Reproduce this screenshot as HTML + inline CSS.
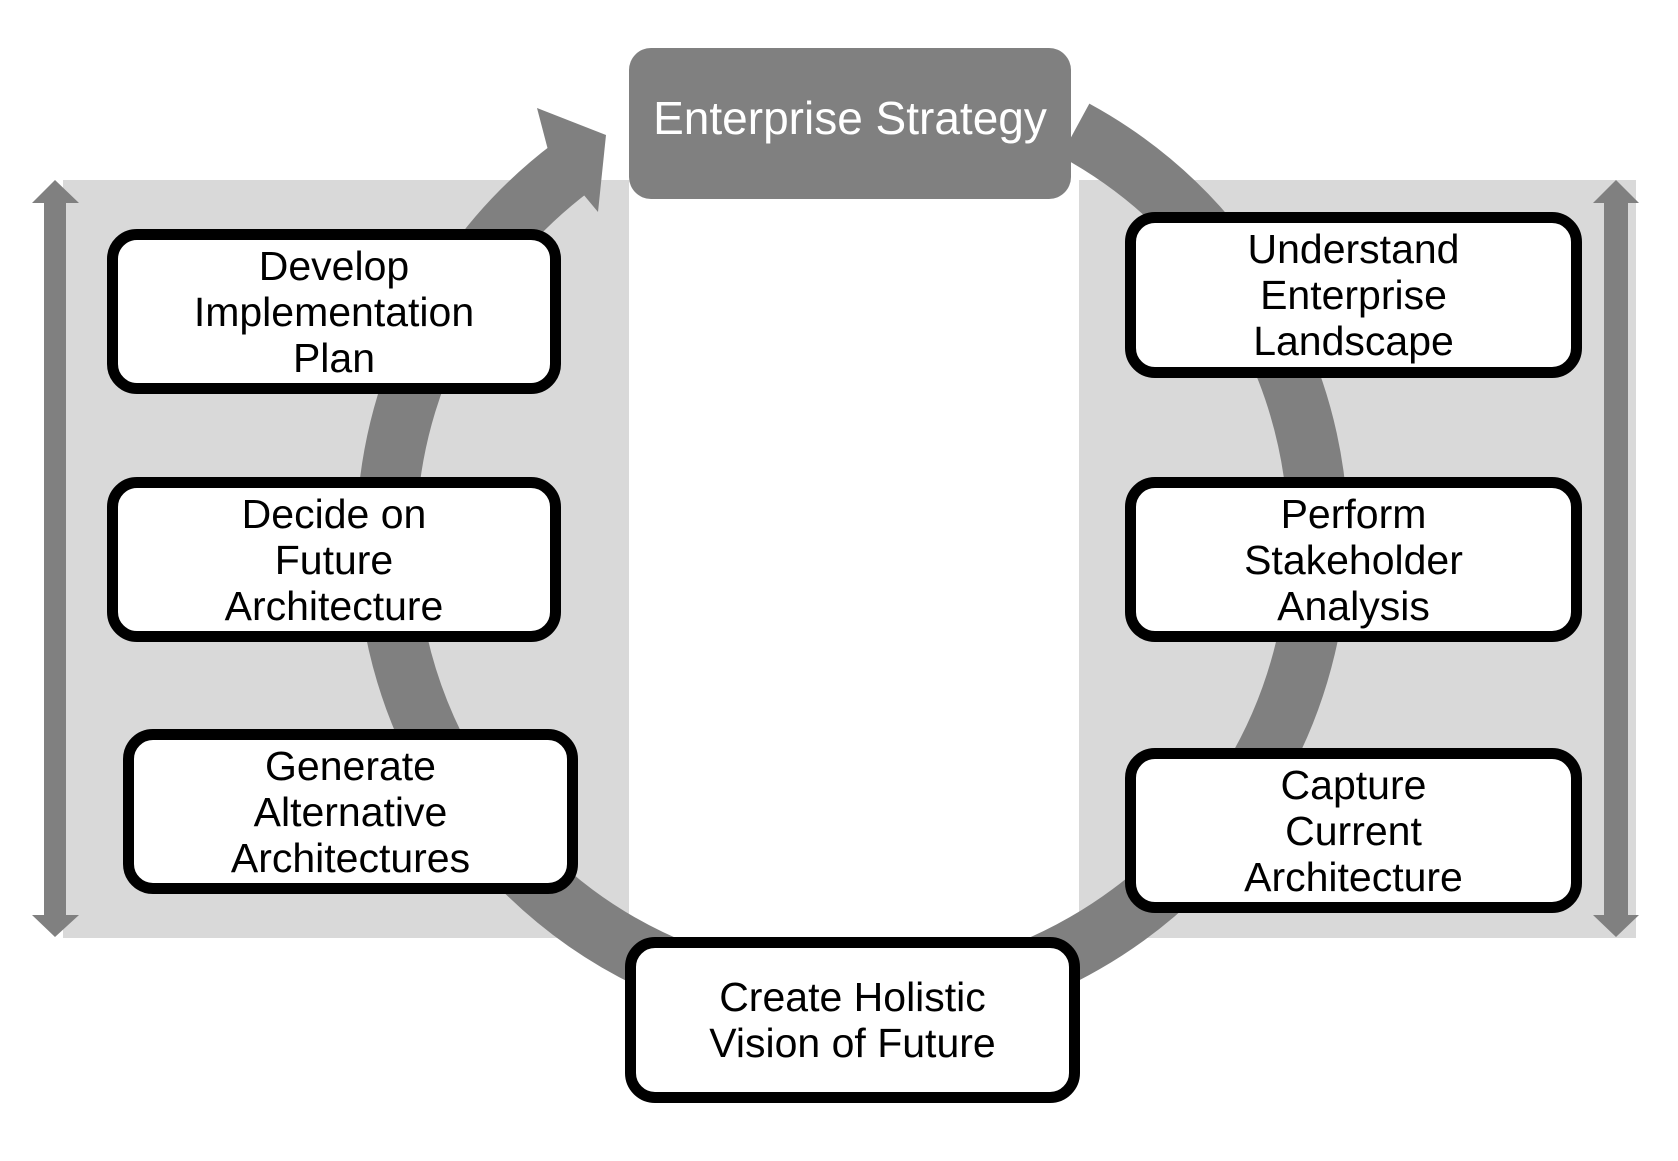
<!DOCTYPE html>
<html><head><meta charset="utf-8"><style>
html,body{margin:0;padding:0;background:#fff;}
body{width:1678px;height:1161px;position:relative;overflow:hidden;font-family:"Liberation Sans",Arial,sans-serif;}
.b{position:absolute;box-sizing:border-box;border:11px solid #000;border-radius:30px;background:#fff;display:flex;align-items:center;justify-content:center;text-align:center;font-size:41px;line-height:46px;color:#000;}
</style></head><body>
<svg width="1678" height="1161" style="position:absolute;left:0;top:0">
<rect x="63" y="180" width="566" height="758" fill="#d9d9d9"/>
<rect x="1079" y="180" width="557" height="758" fill="#d9d9d9"/>
<path d="M1075 130 A466 466 0 1 1 572 167" fill="none" stroke="#808080" stroke-width="60"/>
<polygon points="537,108 606,135 598,212 578,188 548,150" fill="#808080"/>
<polygon points="55,180 79,203 66,203 66,915 79,915 55,937 32,915 44,915 44,203 32,203" fill="#808080"/>
<polygon points="1616,180 1639,203 1628,203 1628,915 1639,915 1616,937 1593,915 1604,915 1604,203 1593,203" fill="#808080"/>
</svg>
<div style="position:absolute;left:629px;top:48px;width:442px;height:151px;background:#808080;border-radius:22px;color:#fff;font-size:46px;display:flex;align-items:center;justify-content:center;padding-bottom:12px;box-sizing:border-box;">Enterprise Strategy</div>
<div class="b" style="left:107px;top:229px;width:454px;height:165px;">Develop<br>Implementation<br>Plan</div>
<div class="b" style="left:107px;top:477px;width:454px;height:165px;">Decide on<br>Future<br>Architecture</div>
<div class="b" style="left:123px;top:729px;width:455px;height:165px;">Generate<br>Alternative<br>Architectures</div>
<div class="b" style="left:1125px;top:212px;width:457px;height:166px;">Understand<br>Enterprise<br>Landscape</div>
<div class="b" style="left:1125px;top:477px;width:457px;height:165px;">Perform<br>Stakeholder<br>Analysis</div>
<div class="b" style="left:1125px;top:748px;width:457px;height:165px;">Capture<br>Current<br>Architecture</div>
<div class="b" style="left:625px;top:937px;width:455px;height:166px;">Create Holistic<br>Vision of Future</div>
</body></html>
